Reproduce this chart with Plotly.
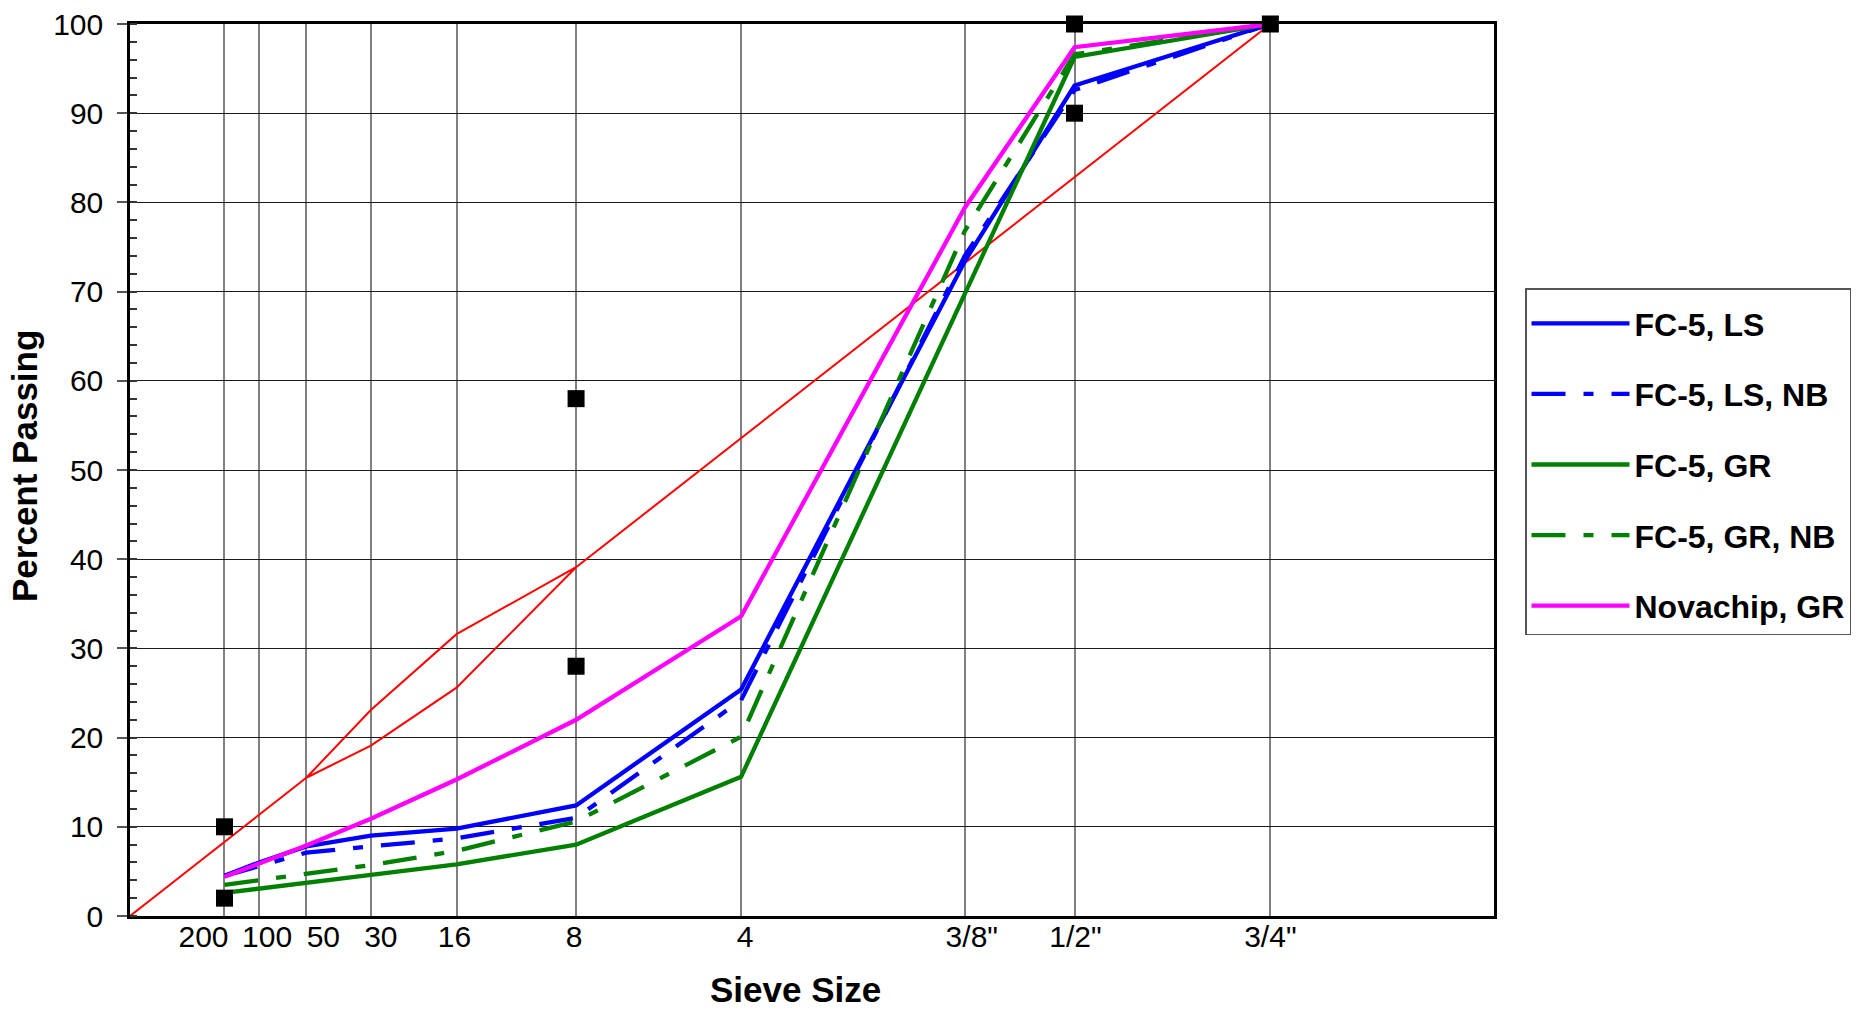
import plotly.graph_objects as go

# ---------------- data ----------------
sieve_labels = ['200', '100', '50', '30', '16', '8', '4', '3/8"', '1/2"', '3/4"']
sieve_mm = [0.075, 0.15, 0.3, 0.6, 1.18, 2.36, 4.75, 9.5, 12.5, 19.0]

fc5_ls = [4.5, 6.0, 7.8, 9.0, 9.8, 12.4, 25.4, 73.4, 93.1, 100]
fc5_ls_nb = [4.5, 5.6, 7.1, 7.8, 8.7, 11.0, 24.2, 74.0, 92.6, 100]
fc5_gr = [2.6, 3.1, 3.7, 4.6, 5.8, 8.0, 15.6, 69.7, 96.3, 100]
fc5_gr_nb = [3.5, 4.0, 4.8, 5.7, 7.3, 10.6, 20.1, 76.8, 96.6, 100]
novachip_gr = [4.4, 5.9, 7.9, 10.9, 15.3, 22.0, 33.6, 79.4, 97.4, 100]

# maximum density line (0.45 power)
mdl_mm_low = [0.0, 0.075, 0.15, 0.3]
mdl_low = [0.0, 8.3, 11.3, 15.5]
mdl_mm_high = [2.36, 4.75, 9.5, 12.5, 19.0]
mdl_high = [39.1, 53.6, 73.2, 82.8, 100]

# restricted zone
rz_mm = [0.3, 0.6, 1.18, 2.36, 1.18, 0.6, 0.3]
rz_vals = [15.5, 23.1, 31.6, 39.1, 25.6, 19.1, 15.5]

# control points
cp_mm = [0.075, 0.075, 2.36, 2.36, 12.5, 12.5, 19.0]
cp_vals = [2, 10, 28, 58, 90, 100, 100]

# tick label nudges (px) so neighbouring labels do not collide
label_nudge_px = [-21, 8, 17, 10, -2, -2, 4, 7, 1, 0]

# ---------------- helpers ----------------
P = 0.45
def tx(v):
    return [None if m is None else m ** P for m in v]

X_MAX = 4.5
L, R, T, B = 130, 366, 24, 97
W, H = 1860, 1013
plot_w = W - L - R
plot_h = H - T - B
px_per_unit = plot_w / X_MAX

sieve_x = tx(sieve_mm)
label_x = [x + n / px_per_unit for x, n in zip(sieve_x, label_nudge_px)]

FONT = "Arial, Liberation Sans, sans-serif"

fig = go.Figure()

# red lines
fig.add_trace(go.Scatter(x=tx(mdl_mm_low) + [None] + tx(mdl_mm_high),
                         y=mdl_low + [None] + mdl_high,
                         mode='lines', line=dict(color='#ff0000', width=2),
                         showlegend=False, hoverinfo='skip', connectgaps=False))
fig.add_trace(go.Scatter(x=tx(rz_mm), y=rz_vals, mode='lines',
                         line=dict(color='#ff0000', width=2),
                         showlegend=False, hoverinfo='skip'))

dashpat = '34px,18px,10px,18px'
series = [
    ('FC-5, LS', fc5_ls, '#0000ff', 'solid'),
    ('FC-5, LS, NB', fc5_ls_nb, '#0000ff', dashpat),
    ('FC-5, GR', fc5_gr, '#008000', 'solid'),
    ('FC-5, GR, NB', fc5_gr_nb, '#008000', dashpat),
    ('Novachip, GR', novachip_gr, '#ff00ff', 'solid'),
]
for i, (name, vals, col, dash) in enumerate(series):
    fig.add_trace(go.Scatter(x=sieve_x, y=vals, mode='lines', name=name,
                             legendgroup=f'g{i}',
                             line=dict(color=col, width=4.3, dash=dash)))

fig.add_trace(go.Scatter(x=tx(cp_mm), y=cp_vals, mode='markers',
                         marker=dict(symbol='square', size=17, color='black'),
                         cliponaxis=False,
                         showlegend=False, hoverinfo='skip'))

# dummy trace to activate label axis
fig.add_trace(go.Scatter(x=[0], y=[0], xaxis='x2', mode='markers',
                         marker=dict(opacity=0), showlegend=False, hoverinfo='skip'))

fig.update_layout(
    width=W, height=H,
    margin=dict(l=L, r=R, t=T, b=B, autoexpand=False),
    plot_bgcolor='white', paper_bgcolor='white',
    font=dict(family=FONT, color='black'),
    xaxis=dict(range=[0, X_MAX], tickvals=sieve_x, showticklabels=False,
               showgrid=True, gridcolor='#808080', gridwidth=1.5,
               zeroline=False, showline=True, linecolor='black', linewidth=2.5,
               mirror=True, ticks='', automargin=False),
    xaxis2=dict(range=[0, X_MAX], overlaying='x', side='bottom', anchor='y',
                tickvals=label_x, ticktext=sieve_labels, showgrid=False,
                zeroline=False, showline=False, ticks='', automargin=False,
                tickfont=dict(size=30, family=FONT, color='black')),
    yaxis=dict(range=[0, 100], dtick=10, tick0=0, automargin=False,
               showgrid=True, gridcolor='#1a1a1a', gridwidth=1,
               zeroline=False, showline=True, linecolor='black', linewidth=2.5,
               mirror=True, ticks='outside', ticklen=10, tickcolor='#555',
               tickwidth=1.5, ticklabelstandoff=8,
               minor=dict(dtick=2, ticks='inside', ticklen=7, tickcolor='#333',
                          tickwidth=1.5, showgrid=False),
               tickfont=dict(size=30, family=FONT, color='black')),
    annotations=[
        dict(text='Sieve Size', xref='paper', yref='paper',
             x=(795 - L) / plot_w, y=(H - B - 990) / plot_h,
             xanchor='center', yanchor='middle', showarrow=False,
             font=dict(size=35, family=FONT, weight='bold', color='black')),
        dict(text='Percent Passing', xref='paper', yref='paper',
             x=(24 - L) / plot_w, y=(H - B - 466) / plot_h, textangle=-90,
             xanchor='center', yanchor='middle', showarrow=False,
             font=dict(size=35, family=FONT, weight='bold', color='black')),
    ],
    legend=dict(x=(1525 - L) / plot_w, y=(H - B - 288) / plot_h,
                xanchor='left', yanchor='top',
                title=dict(text=' ', font=dict(size=5)),
                bgcolor='white', bordercolor='#555', borderwidth=1.5,
                font=dict(size=32, family=FONT, weight='bold', color='black'),
                tracegroupgap=26, itemwidth=98),
    showlegend=True,
)

fig.write_html('out.html')
